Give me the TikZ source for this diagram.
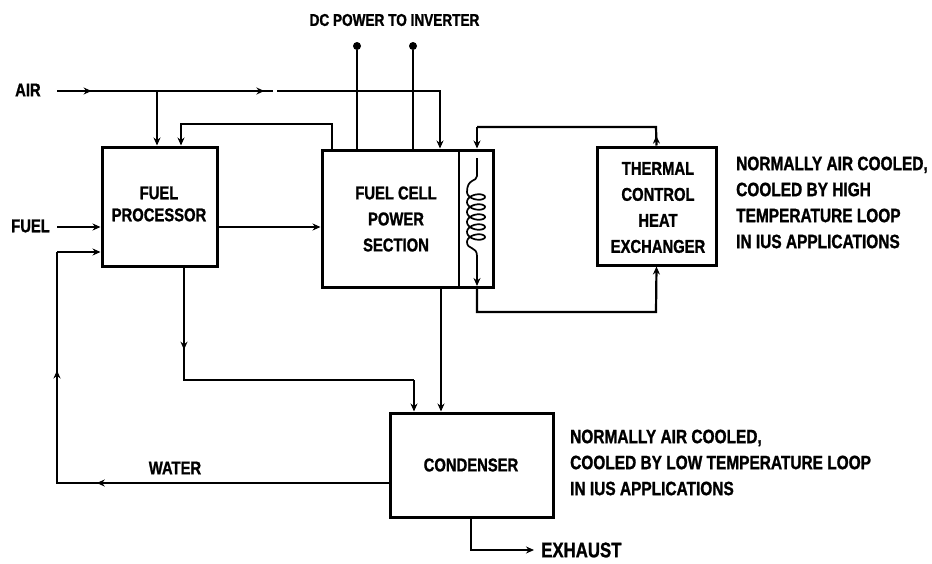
\documentclass[tikz,border=0pt]{standalone}
\usepackage{fontspec}
\setmainfont{Liberation Sans}[FakeStretch=0.8,BoldFeatures={FakeBold=1.2}]
\usetikzlibrary{arrows.meta,decorations.markings,calc}
\tikzset{
  blockbox/.style={draw=black,line width=3pt,fill=white,inner sep=0pt,align=center,minimum width=#1},
  flow/.style={draw=black,line width=2.2pt,line join=miter},
  tip/.style={-{Stealth[length=8pt,width=7pt]}},
  tipat/.style={postaction={decorate,decoration={markings,mark=at position #1 with {\arrow{Stealth[length=8pt,width=7pt]}}}}},
  lab/.style={font=\bfseries\fontsize{18.5}{26}\selectfont,inner sep=0pt,align=center},
  note/.style={font=\bfseries\fontsize{19.3}{26}\selectfont,inner sep=0pt,anchor=west,align=left},
  terminal/.style={circle,fill=black,inner sep=0pt,minimum size=8pt}
}
\begin{document}
\begin{tikzpicture}[x=1pt,y=-1pt]
\useasboundingbox (0,0) rectangle (932,563);
\fill[white] (0,0) rectangle (932,563);
% blocks
\node[blockbox=115pt,minimum height=119pt] (fp) at (159.5,206.5) {};
\node[blockbox=171pt,minimum height=137pt] (fc) at (407.5,218.5) {};
\node[blockbox=119pt,minimum height=118pt] (th) at (656.5,206) {};
\node[blockbox=163pt,minimum height=104pt] (cd) at (471.5,465) {};
% block labels
\node[lab,font=\bfseries\fontsize{18.5}{22}\selectfont] (fpt) at (159,204) {FUEL\\PROCESSOR};
\node[lab] (fct) at (396,219) {FUEL CELL\\POWER\\SECTION};
\node[lab] (tht) at (658,207.5) {THERMAL\\CONTROL\\HEAT\\EXCHANGER};
\node[lab] (cdt) at (471,465) {CONDENSER};
% divider and coil
\coordinate (dvt) at (459,150);
\draw[line width=2.6pt] (dvt) -- (dvt |- fc.south);
\coordinate (ctop) at (477,158);
\coordinate (cin) at (477,127);
\coordinate (cbot) at (477,312);
\draw[flow,line width=1.7pt] (ctop) -- (477,176) .. controls (477,182) and (467,178) .. (467,192)
  plot[domain=0:5,samples=120,smooth,variable=\t] ({476+9*cos(360*\t+180)},{192+10*\t+5*sin(360*\t)})
  .. controls (467,250) and (477,246) .. (477,256);
\draw[flow,line width=1.7pt,tip] (477,256) -- (477,286);
% upper connectors
\node[lab,anchor=west] (air) at (15,90) {AIR};
\node[lab,anchor=west] (fuel) at (11,226) {FUEL};
\coordinate (airin) at (57,91);
\coordinate (airbr) at (157,91);
\coordinate (airgap) at (273,91);
\coordinate (airgap2) at (277,91);
\coordinate (aircell) at (440,91);
\draw[flow,tipat=0.16,tipat=0.96] (airin) -- (airgap);
\draw[flow,tip] (airgap2) -- (aircell) -- (aircell |- fc.north);
\draw[flow,tip] (airbr) -- (airbr |- fp.north);
\coordinate (retc) at (332,124);
\coordinate (retf) at (181,124);
\draw[flow,tip] (retc |- fc.north) -- (retc) -- (retf) -- (retf |- fp.north);
\coordinate (fuelin) at (57,227);
\draw[flow,tip] (fuelin) -- (fuelin -| fp.west);
\coordinate (fpout) at (217,227);
\draw[flow,tip] (fpout) -- (fpout -| fc.west);
% DC power
\node[lab,font=\bfseries\fontsize{17}{20}\selectfont] (dc) at (394.5,20) {DC POWER TO INVERTER};
\node[terminal] (t1) at (357,46) {};
\node[terminal] (t2) at (413,46) {};
\draw[flow] (t1) -- (t1 |- fc.north);
\draw[flow] (t2) -- (t2 |- fc.north);
% thermal loop
\coordinate (thtop) at (656,127);
\coordinate (thbot) at (656,312);
\draw[flow,tipat=0.05] (th.north) -- (thtop) -- (cin);
\draw[flow,tip] (cin) -- (cin |- fc.north);
\draw[flow,tip] (cin |- fc.south) -- (cbot) -- (thbot) -- (th.south);
% lower connectors
\coordinate (fpd) at (184,380);
\coordinate (cda) at (414,380);
\draw[flow,tipat=0.24] (fpd |- fp.south) -- (fpd) -- (cda);
\draw[flow,tip] (cda) -- (cda |- cd.north);
\coordinate (fcd) at (441,300);
\draw[flow,tip] (fcd |- fc.south) -- (fcd |- cd.north);
\coordinate (wcd) at (390,483);
\coordinate (wl) at (57,483);
\coordinate (wt) at (57,252);
\draw[flow,tipat=0.52,tipat=0.79] (wcd) -- (wl) -- (wt);
\draw[flow,tip] (wt) -- (wt -| fp.west);
\node[lab] (water) at (175,468) {WATER};
\coordinate (exd) at (471,550);
\coordinate (exe) at (534,550);
\draw[flow,tip] (exd |- cd.south) -- (exd) -- (exe);
\node[lab,anchor=west,font=\bfseries\fontsize{21}{24}\selectfont] (exh) at (541,550) {EXHAUST};
% notes
\node[note] (n1) at (736,202.5) {NORMALLY AIR COOLED,\\COOLED BY HIGH\\TEMPERATURE LOOP\\IN IUS APPLICATIONS};
\node[note] (n2) at (570,462.5) {NORMALLY AIR COOLED,\\COOLED BY LOW TEMPERATURE LOOP\\IN IUS APPLICATIONS};
\end{tikzpicture}
\end{document}
